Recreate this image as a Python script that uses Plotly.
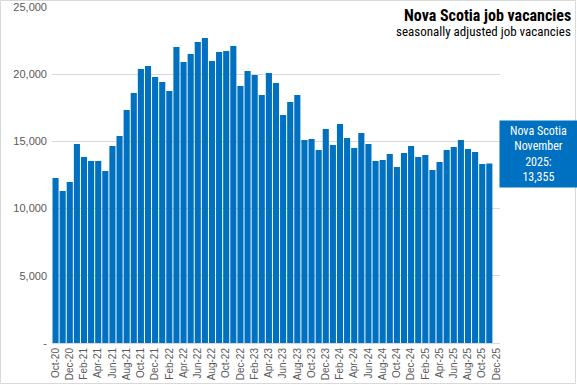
import plotly.graph_objects as go

months = ["Oct-20","Nov-20","Dec-20","Jan-21","Feb-21","Mar-21","Apr-21","May-21","Jun-21","Jul-21","Aug-21","Sep-21",
          "Oct-21","Nov-21","Dec-21","Jan-22","Feb-22","Mar-22","Apr-22","May-22","Jun-22","Jul-22","Aug-22","Sep-22",
          "Oct-22","Nov-22","Dec-22","Jan-23","Feb-23","Mar-23","Apr-23","May-23","Jun-23","Jul-23","Aug-23","Sep-23",
          "Oct-23","Nov-23","Dec-23","Jan-24","Feb-24","Mar-24","Apr-24","May-24","Jun-24","Jul-24","Aug-24","Sep-24",
          "Oct-24","Nov-24","Dec-24","Jan-25","Feb-25","Mar-25","Apr-25","May-25","Jun-25","Jul-25","Aug-25","Sep-25",
          "Oct-25","Nov-25","Dec-25"]

vacancies = [12280, 11310, 11980, 14800, 13840, 13540, 13540, 12800, 14660, 15400, 17340, 18600,
             20390, 20610, 19790, 19420, 18750, 22020, 20900, 21500, 22400, 22690, 20980, 21650,
             21720, 22100, 19120, 20240, 19940, 18450, 20090, 19340, 16960, 17930, 18450, 15100,
             15180, 14360, 15920, 14730, 16290, 15250, 14510, 15620, 14800, 13540, 13620, 14060,
             13090, 14140, 14660, 13840, 13990, 12870, 13470, 14360, 14580, 15100, 14430, 14210,
             13320, 13355, None]

tick_labels = months[::2]
y_ticks = [0, 5000, 10000, 15000, 20000, 25000]
y_tick_text = ["-", "5,000", "10,000", "15,000", "20,000", "25,000"]

W, H = 577, 385
L, R, T, B = 52, 77, 7, 42
pw, ph = W - L - R, H - T - B

def px(x):
    return (x - L) / pw

def py(y):
    return (H - B - y) / ph

narrow = "Liberation Sans Narrow, Arial Narrow, Roboto Condensed, sans-serif"

fig = go.Figure(go.Bar(
    x=list(range(len(months))), y=vacancies,
    marker=dict(color="#0070C0", line=dict(width=0)),
    hoverinfo="skip",
))

fig.update_layout(
    width=W, height=H,
    margin=dict(l=L, r=R, t=T, b=B, autoexpand=False),
    paper_bgcolor="white", plot_bgcolor="white",
    bargap=0.14,
    showlegend=False,
    font=dict(family="Liberation Sans, Arial, sans-serif", color="#595959"),
    xaxis=dict(
        range=[-0.5, len(months) - 0.5],
        tickmode="array",
        tickvals=list(range(0, len(months), 2)),
        ticktext=tick_labels,
        tickangle=-90,
        tickfont=dict(size=10, color="#595959"),
        showgrid=False,
        showline=True, linecolor="#D9D9D9", linewidth=1,
        ticks="", zeroline=False,
    ),
    yaxis=dict(
        range=[0, 25000],
        tickmode="array",
        tickvals=y_ticks,
        ticktext=y_tick_text,
        tickfont=dict(size=11, color="#595959"),
        showgrid=True, gridcolor="#D9D9D9", gridwidth=1,
        zeroline=False, showline=False, ticks="",
        ticklabelstandoff=4,
    ),
    shapes=[
        dict(type="rect", xref="paper", yref="paper",
             x0=px(0.5), x1=px(W - 1.5), y0=py(H - 1.5), y1=py(0.5),
             line=dict(color="#D9D9D9", width=1), fillcolor="rgba(0,0,0,0)", layer="below"),
    ],
    annotations=[
        dict(xref="paper", yref="paper", x=px(573), y=py(15), xanchor="right", yanchor="middle",
             text="<b>Nova Scotia job vacancies</b>", showarrow=False,
             font=dict(family=narrow, size=16, color="black")),
        dict(xref="paper", yref="paper", x=px(573), y=py(32), xanchor="right", yanchor="middle",
             text="seasonally adjusted job vacancies", showarrow=False,
             font=dict(family=narrow, size=13, color="black")),
        dict(xref="paper", yref="paper", x=px(499), y=py(120), xanchor="left", yanchor="top",
             text="Nova Scotia<br>November<br>2025:<br>13,355", showarrow=False,
             width=73, height=62, bgcolor="#0070C0", borderpad=2, align="center", valign="middle",
             font=dict(family=narrow, size=12, color="white")),
    ],
)

fig.write_html("out.html", config={"displayModeBar": False},
               post_script="document.body.style.margin='0';document.body.style.padding='0';")
